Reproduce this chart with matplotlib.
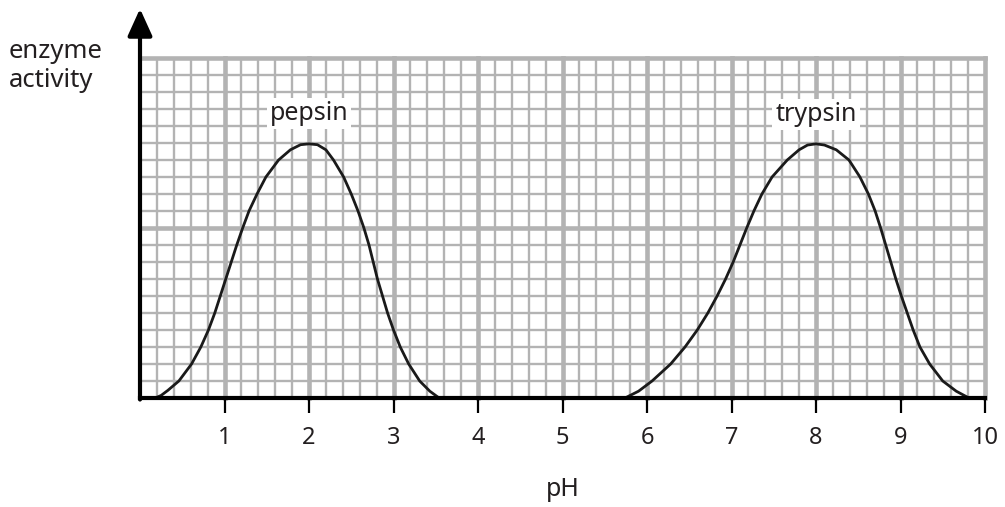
import matplotlib
matplotlib.use("Agg")
import matplotlib.pyplot as plt

# ---- data ----
pepsin_ph = [0.18, 0.25, 0.33, 0.46, 0.61, 0.72, 0.81, 0.885, 0.95, 1.015, 1.08, 1.145, 1.215, 1.29, 1.385, 1.49, 1.64, 1.78, 1.90, 2.00, 2.10, 2.20, 2.29, 2.41, 2.50, 2.58, 2.65, 2.71, 2.76, 2.81, 2.87, 2.93, 3.00, 3.08, 3.18, 3.31, 3.43, 3.54]
pepsin_act = [0.0, 0.15, 0.45, 1.0, 2.0, 3.0, 4.0, 5.0, 6.0, 7.0, 8.0, 9.0, 10.0, 11.0, 12.0, 13.0, 14.0, 14.6, 14.9, 14.95, 14.9, 14.6, 14.0, 13.0, 12.0, 11.0, 10.0, 9.0, 8.0, 7.0, 6.0, 5.0, 4.0, 3.0, 2.0, 1.0, 0.40, 0.0]

trypsin_ph = [5.74, 5.90, 6.06, 6.28, 6.45, 6.595, 6.72, 6.83, 6.93, 7.02, 7.10, 7.18, 7.265, 7.36, 7.48, 7.66, 7.80, 7.90, 8.00, 8.10, 8.24, 8.39, 8.52, 8.62, 8.70, 8.765, 8.825, 8.885, 8.945, 9.01, 9.08, 9.15, 9.23, 9.345, 9.50, 9.66, 9.81]
trypsin_act = [0.0, 0.40, 1.0, 2.0, 3.0, 4.0, 5.0, 6.0, 7.0, 8.0, 9.0, 10.0, 11.0, 12.0, 13.0, 14.0, 14.6, 14.88, 14.95, 14.88, 14.6, 14.0, 13.0, 12.0, 11.0, 10.0, 9.0, 8.0, 7.0, 6.0, 5.0, 4.0, 3.0, 2.0, 1.0, 0.40, 0.0]

tick_values = [1, 2, 3, 4, 5, 6, 7, 8, 9, 10]
tick_labels = ["1", "2", "3", "4", "5", "6", "7", "8", "9", "10"]
curve_labels = ["pepsin", "trypsin"]
curve_label_pos = [(2.0, 16.75), (8.0, 16.65)]

plt.rcParams['font.family'] = ['Noto Sans', 'DejaVu Sans']
text_col = '#231f20'
grid_col = '#b3b3b3'

fig = plt.figure(figsize=(10.05, 5.07), dpi=100)
L, R, B, T = 140 / 1005, 985 / 1005, 1 - 398 / 507, 1 - 58 / 507
ax = fig.add_axes([L, B, R - L, T - B])
ax.set_xlim(0, 10)
ax.set_ylim(0, 20)
ax.set_facecolor('white')

# grid
for i in range(1, 50):
    x = i * 0.2
    if i % 5 == 0:
        ax.axvline(x, color=grid_col, lw=3.3, zorder=1, clip_on=False)
    else:
        ax.axvline(x, color=grid_col, lw=1.7, zorder=1)
ax.axvline(10, color=grid_col, lw=3.3, zorder=1, clip_on=False)
for j in range(1, 20):
    if j == 10:
        ax.axhline(j, color=grid_col, lw=3.3, zorder=1)
    else:
        ax.axhline(j, color=grid_col, lw=1.7, zorder=1)
ax.axhline(20, color=grid_col, lw=3.3, zorder=1, clip_on=False)

# curves
ax.plot(pepsin_ph, pepsin_act, color='#1a1a1a', lw=2.0, zorder=3,
        solid_joinstyle='round', solid_capstyle='round')
ax.plot(trypsin_ph, trypsin_act, color='#1a1a1a', lw=2.0, zorder=3,
        solid_joinstyle='round', solid_capstyle='round')

for lab, (x, y) in zip(curve_labels, curve_label_pos):
    ax.text(x, y, lab, ha='center', va='center', fontsize=18, color=text_col, zorder=4,
            bbox=dict(boxstyle='square,pad=0.12', fc='white', ec='none'))

# spines
for s in ['top', 'right', 'left']:
    ax.spines[s].set_visible(False)
ax.spines['bottom'].set_linewidth(3.0)
ax.spines['bottom'].set_color('black')
ax.spines['bottom'].set_zorder(5)
ax.spines['bottom'].set_capstyle('projecting')

# y axis with arrow
ax.annotate('', xy=(0, 22.9), xytext=(0, -0.09), xycoords='data',
            arrowprops=dict(arrowstyle='-|>,head_length=0.75,head_width=0.34', lw=3.0, color='black',
                            shrinkA=0, shrinkB=0, mutation_scale=22),
            annotation_clip=False, zorder=6)

ax.set_yticks([])
ax.set_xticks(tick_values)
ax.set_xticklabels(tick_labels, fontsize=17, color=text_col)
ax.tick_params(axis='x', direction='out', length=11, width=1.6, color='black', pad=9)

fig.text(563 / 1005, 1 - 490 / 507, 'pH', ha='center', va='center', fontsize=18, color=text_col)
fig.text(9 / 1005, 1 - 66 / 507, 'enzyme\nactivity', ha='left', va='center', fontsize=18.5,
         color=text_col, linespacing=1.2)

fig.savefig('out.png', dpi=100)
